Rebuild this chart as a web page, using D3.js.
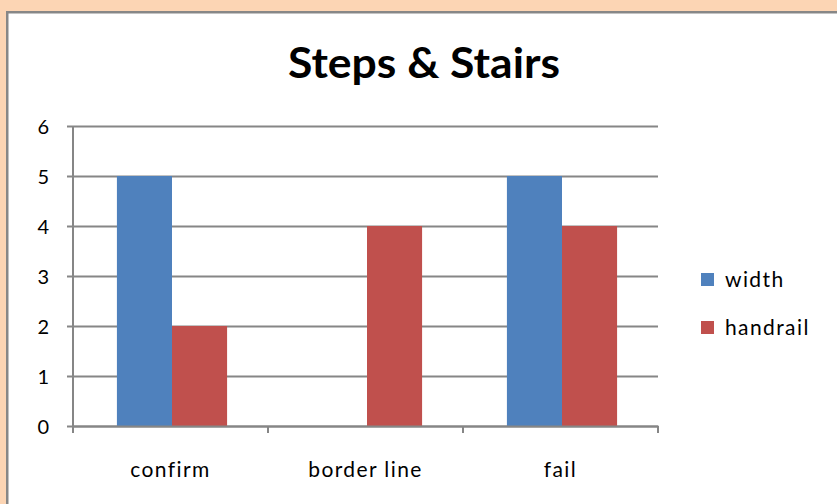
<!DOCTYPE html>
<html>
<head>
<meta charset="utf-8">
<script src="https://cdn.jsdelivr.net/npm/d3@7"></script>
<style>
  html, body { margin: 0; padding: 0; background: #FCD5B4; }
  svg { display: block; }
  text { font-family: Lato, "Open Sans", sans-serif; fill: #000; }
</style>
</head>
<body>
<svg id="chart" width="837" height="504"></svg>
<script>
// Chart data
const categories = ["confirm", "border line", "fail"];
const seriesNames = ["width", "handrail"];
const widthValues = [5, 0, 5];
const handrailValues = [2, 4, 4];
const yTicks = [0, 1, 2, 3, 4, 5, 6];
const seriesColors = ["#4F81BD", "#C0504D"];
const chartTitle = "Steps & Stairs";

const seriesValues = [widthValues, handrailValues];
const rows = categories.map((c, i) => ({
  category: c,
  values: seriesNames.map((s, j) => ({ series: s, value: seriesValues[j][i] }))
}));

const svg = d3.select("#chart");

// Chart frame: white panel with a grey border on the peach page
svg.append("rect")
  .attr("x", 7.25).attr("y", 12.25)
  .attr("width", 900).attr("height", 600)
  .attr("fill", "#fff")
  .attr("stroke", "#878787")
  .attr("stroke-width", 2.5);

const plot = { left: 73, right: 658, top: 126, bottom: 426 };

const x0 = d3.scaleBand()
  .domain(categories)
  .range([plot.left, plot.right])
  .paddingInner(0).paddingOuter(0);

const x1 = d3.scaleBand()
  .domain(seriesNames)
  .range([1.5, x0.bandwidth() + 1.5])
  .paddingInner(0)
  .paddingOuter(0.77);

const y = d3.scaleLinear().domain([0, 6]).range([plot.bottom, plot.top]);

const color = d3.scaleOrdinal().domain(seriesNames).range(seriesColors);

const labelStyle = sel => sel
  .style("font-size", "21px")
  .style("letter-spacing", "1.4px");

// Horizontal gridlines with short ticks left of the axis
const gridG = svg.append("g")
  .attr("transform", `translate(${plot.left},0)`)
  .call(d3.axisLeft(y).tickValues(yTicks).tickSize(-(plot.right - plot.left)).tickFormat(""));
gridG.select(".domain").remove();
gridG.selectAll(".tick line")
  .attr("stroke", "#868686").attr("stroke-width", 2)
  .attr("x1", -6);

// Y tick labels
const yAxisG = svg.append("g")
  .attr("transform", `translate(${plot.left},0)`)
  .call(d3.axisLeft(y).tickValues(yTicks).tickSize(0).tickPadding(24).tickFormat(d3.format("d")));
yAxisG.select(".domain").remove();
yAxisG.selectAll("text")
  .style("font-size", "20px")
  .attr("dy", "0.36em");

// Bars
const groups = svg.append("g").selectAll("g")
  .data(rows)
  .join("g")
  .attr("transform", d => `translate(${x0(d.category)},0)`);

groups.selectAll("rect")
  .data(d => d.values)
  .join("rect")
  .attr("x", d => x1(d.series))
  .attr("width", x1.bandwidth())
  .attr("y", d => y(d.value))
  .attr("height", d => y(0) - y(d.value))
  .attr("fill", d => color(d.series));

// Vertical axis line
svg.append("line")
  .attr("x1", plot.left).attr("x2", plot.left)
  .attr("y1", plot.top).attr("y2", plot.bottom + 7)
  .attr("stroke", "#868686").attr("stroke-width", 2);

// Category axis
const xAxisG = svg.append("g")
  .attr("transform", `translate(0,${plot.bottom})`)
  .call(d3.axisBottom(x0).tickSize(0).tickPadding(36));
xAxisG.select(".domain")
  .attr("stroke", "#868686").attr("stroke-width", 2);
xAxisG.selectAll("text").call(labelStyle);

// Category boundary tick marks
const boundaries = categories.map(c => x0(c)).concat([x0.range()[1]]);
svg.append("g").selectAll("line")
  .data(boundaries)
  .join("line")
  .attr("x1", d => d).attr("x2", d => d)
  .attr("y1", plot.bottom).attr("y2", plot.bottom + 7)
  .attr("stroke", "#868686").attr("stroke-width", 2);

// Title
svg.append("text")
  .attr("x", 424).attr("y", 78)
  .attr("text-anchor", "middle")
  .style("font-size", "42px")
  .style("font-weight", "bold")
  .attr("textLength", 272)
  .attr("lengthAdjust", "spacingAndGlyphs")
  .text(chartTitle);

// Legend
const legend = svg.append("g").attr("transform", "translate(701,273)");
const li = legend.selectAll("g")
  .data(seriesNames)
  .join("g")
  .attr("transform", (d, i) => `translate(0,${i * 48})`);
li.append("rect")
  .attr("width", 13).attr("height", 13)
  .attr("fill", d => color(d));
li.append("text")
  .attr("x", 24).attr("y", 14)
  .call(labelStyle)
  .text(d => d);
</script>
</body>
</html>
